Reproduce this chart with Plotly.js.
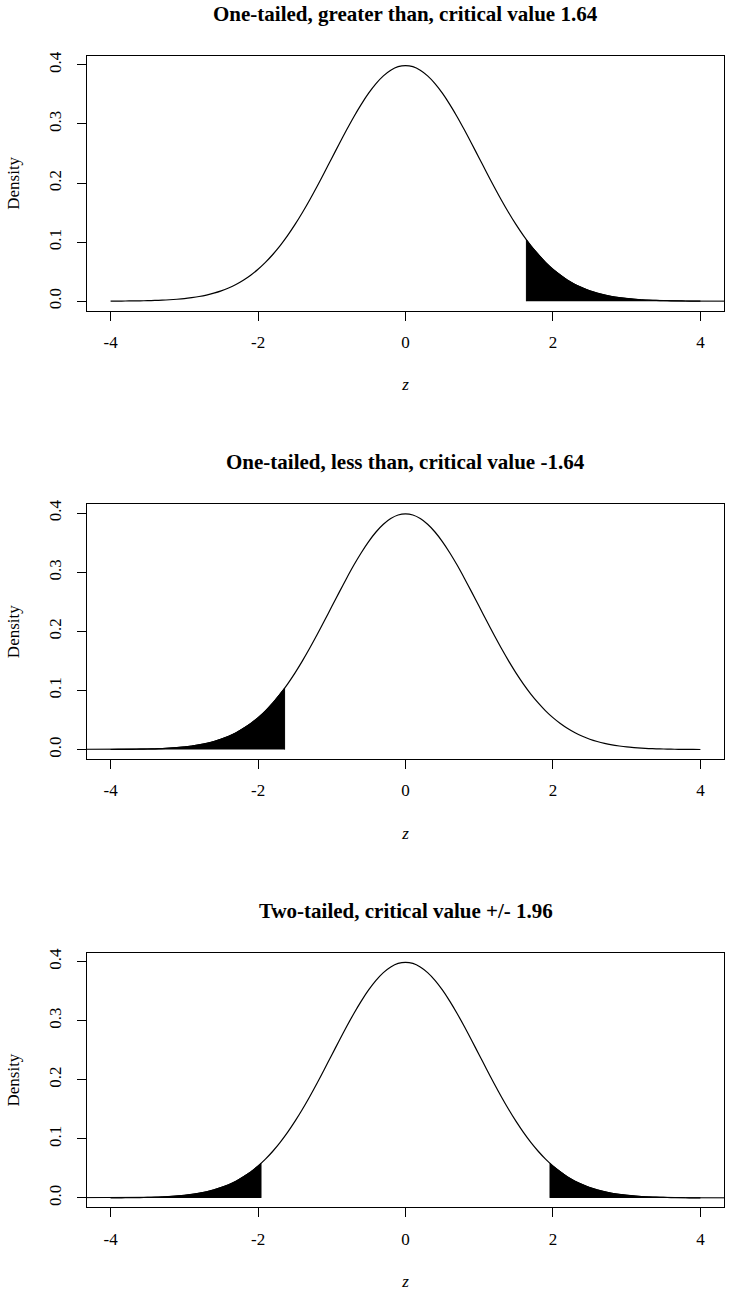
<!DOCTYPE html>
<html>
<head>
<meta charset="utf-8">
<script src="https://cdn.plot.ly/plotly-3.0.1.min.js"></script>
<style>html,body{margin:0;padding:0;background:#fff;}#chart{width:729px;height:1297px;}</style>
</head>
<body>
<div id="chart"></div>
<script>
// z grid and standard normal density read at each grid point
var zGrid = [-4.0,-3.9,-3.8,-3.7,-3.6,-3.5,-3.4,-3.3,-3.2,-3.1,-3.0,-2.9,-2.8,-2.7,-2.6,-2.5,-2.4,-2.3,-2.2,-2.1,
  -2.0,-1.9,-1.8,-1.7,-1.6,-1.5,-1.4,-1.3,-1.2,-1.1,-1.0,-0.9,-0.8,-0.7,-0.6,-0.5,-0.4,-0.3,-0.2,-0.1,
  0.0,0.1,0.2,0.3,0.4,0.5,0.6,0.7,0.8,0.9,1.0,1.1,1.2,1.3,1.4,1.5,1.6,1.7,1.8,1.9,
  2.0,2.1,2.2,2.3,2.4,2.5,2.6,2.7,2.8,2.9,3.0,3.1,3.2,3.3,3.4,3.5,3.6,3.7,3.8,3.9,4.0];
var density = [0.0001,0.0002,0.0003,0.0004,0.0006,0.0009,0.0012,0.0017,0.0024,0.0033,0.0044,0.0060,0.0079,0.0104,0.0136,0.0175,0.0224,0.0283,0.0355,0.0440,
  0.0540,0.0656,0.0790,0.0940,0.1109,0.1295,0.1497,0.1714,0.1942,0.2179,0.2420,0.2661,0.2897,0.3123,0.3332,0.3521,0.3683,0.3814,0.3910,0.3970,
  0.3989,0.3970,0.3910,0.3814,0.3683,0.3521,0.3332,0.3123,0.2897,0.2661,0.2420,0.2179,0.1942,0.1714,0.1497,0.1295,0.1109,0.0940,0.0790,0.0656,
  0.0540,0.0440,0.0355,0.0283,0.0224,0.0175,0.0136,0.0104,0.0079,0.0060,0.0044,0.0033,0.0024,0.0017,0.0012,0.0009,0.0006,0.0004,0.0003,0.0002,0.0001];

var panelTitles = ["One-tailed, greater than, critical value 1.64",
                   "One-tailed, less than, critical value -1.64",
                   "Two-tailed, critical value +/- 1.96"];
// shaded tails per panel: [critical value, density at critical, direction]
var tails1 = [[1.64, 0.1040, "upper"]];
var tails2 = [[-1.64, 0.1040, "lower"]];
var tails3 = [[-1.96, 0.0584, "lower"], [1.96, 0.0584, "upper"]];
var xTicks = [-4, -2, 0, 2, 4];
var xTickText = ["-4", "-2", "0", "2", "4"];
var yTicks = [0, 0.1, 0.2, 0.3, 0.4];
var yTickText = ["0.0", "0.1", "0.2", "0.3", "0.4"];
var tailEnd = 5; // polygons run past the plotting region (clipped)

var panels = [tails1, tails2, tails3];
var traces = [];
var FONT = "'Liberation Serif', 'Times New Roman', Times, serif";

function tailPolygon(t) {
  var c = t[0], dc = t[1], dir = t[2];
  var xs = [], ys = [];
  if (dir === "upper") {
    xs.push(c); ys.push(0);
    xs.push(c); ys.push(dc);
    for (var i = 0; i < zGrid.length; i++) if (zGrid[i] > c + 1e-9) { xs.push(zGrid[i]); ys.push(density[i]); }
    xs.push(tailEnd); ys.push(0);
  } else {
    xs.push(-tailEnd); ys.push(0);
    for (var i = 0; i < zGrid.length; i++) if (zGrid[i] < c - 1e-9) { xs.push(zGrid[i]); ys.push(density[i]); }
    xs.push(c); ys.push(dc);
    xs.push(c); ys.push(0);
  }
  return {x: xs, y: ys};
}

var layout = {
  width: 729, height: 1297,
  margin: {l: 87, r: 5, t: 0, b: 0},
  paper_bgcolor: "#fff", plot_bgcolor: "#fff",
  showlegend: false,
  font: {family: FONT, color: "#000", size: 17},
  annotations: []
};

var domains = [[0.7605, 0.9568], [0.4148, 0.6111], [0.0691, 0.2654]];

panels.forEach(function(tails, p) {
  var xa = p === 0 ? "x" : "x" + (p + 1);
  var ya = p === 0 ? "y" : "y" + (p + 1);
  tails.forEach(function(t) {
    var poly = tailPolygon(t);
    traces.push({x: poly.x, y: poly.y, xaxis: xa, yaxis: ya, type: "scatter", mode: "lines",
      fill: "toself", fillcolor: "#000", line: {color: "#000", width: 1}, hoverinfo: "skip"});
  });
  traces.push({x: zGrid, y: density, xaxis: xa, yaxis: ya, type: "scatter", mode: "lines",
    line: {color: "#000", width: 1.2, shape: "spline", smoothing: 0.8}, hoverinfo: "skip"});

  var xk = p === 0 ? "xaxis" : "xaxis" + (p + 1);
  var yk = p === 0 ? "yaxis" : "yaxis" + (p + 1);
  layout[xk] = {
    domain: [0, 1], anchor: ya, range: [-4.32, 4.32],
    tickvals: xTicks, ticktext: xTickText, ticks: "outside", ticklen: 9, tickwidth: 1, tickcolor: "#000",
    ticklabelstandoff: 7,
    showline: true, mirror: true, linecolor: "#000", linewidth: 1,
    showgrid: false, zeroline: false, automargin: false,
    tickfont: {family: FONT, size: 17, color: "#000"},
    title: {text: "<i>z</i>", font: {family: FONT, size: 17, color: "#000"}, standoff: 27}
  };
  layout[yk] = {
    domain: domains[p], anchor: xa, range: [-0.016, 0.415],
    tickvals: yTicks, ticktext: yTickText, ticks: "outside", ticklen: 9, tickwidth: 1, tickcolor: "#000",
    tickangle: -90, ticklabelstandoff: 9,
    showline: true, mirror: true, linecolor: "#000", linewidth: 1,
    showgrid: false, zeroline: false, automargin: false,
    tickfont: {family: FONT, size: 17, color: "#000"},
    title: {text: "Density", font: {family: FONT, size: 17, color: "#000"}, standoff: 22}
  };
  layout.annotations.push({
    text: "<b>" + panelTitles[p] + "</b>",
    xref: xa + " domain", yref: ya + " domain",
    x: 0.5, y: 1, xanchor: "center", yanchor: "middle", yshift: 42, showarrow: false,
    font: {family: FONT, size: 21, color: "#000"}
  });
});

Plotly.newPlot("chart", traces, layout, {staticPlot: true, displayModeBar: false});
</script>
</body>
</html>
